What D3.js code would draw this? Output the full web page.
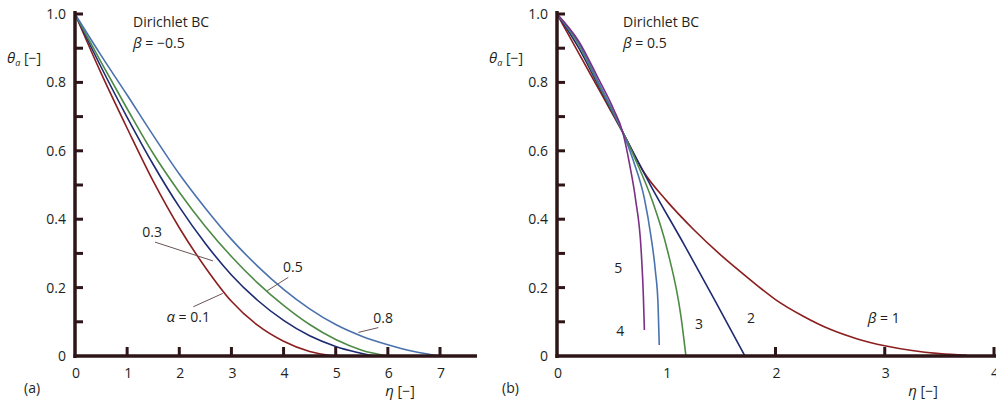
<!DOCTYPE html>
<meta charset="utf-8">
<style>
  body { margin: 0; background: #fff; }
  svg { font-family: "Open Sans", "Noto Sans", sans-serif; }
  .tick-label { font-size: 14px; fill: #231f20; }
  .note { font-size: 14px; fill: #231f20; }
  .curve { fill: none; stroke-width: 1.6; }
  .leader { stroke: #6b5454; stroke-width: 1; }
</style>
<svg width="996" height="403"></svg>
<script src="https://d3js.org/d3.v7.min.js"></script>
<script>
// ---- data, panel (a): theta_a vs eta, Dirichlet BC, beta = -0.5
var alpha01 = [[0,1],[0.5,0.827],[1,0.666],[1.5,0.511],[2,0.375],[2.5,0.259],[3,0.16],[3.5,0.09],[4,0.043],[4.5,0.013],[4.95,0]];
var alpha03 = [[0,1],[0.5,0.845],[1,0.698],[1.5,0.56],[2,0.436],[2.5,0.329],[3,0.237],[3.5,0.163],[4,0.104],[4.5,0.059],[5,0.028],[5.4,0.011],[5.75,0]];
var alpha05 = [[0,1],[0.5,0.859],[1,0.723],[1.5,0.592],[2,0.479],[2.5,0.379],[3,0.291],[3.5,0.214],[4,0.148],[4.5,0.092],[5,0.048],[5.5,0.017],[6,0]];
var alpha08 = [[0,1],[0.5,0.879],[1,0.763],[1.5,0.645],[2,0.532],[2.5,0.432],[3,0.341],[3.5,0.263],[4,0.195],[4.5,0.138],[5,0.092],[5.5,0.058],[6,0.033],[6.5,0.013],[7,0]];

// ---- data, panel (b): Dirichlet BC, beta = 0.5
var beta1 = [[0,1],[0.2,0.885],[0.4,0.77],[0.6,0.655],[0.8,0.535],[1,0.455],[1.25,0.37],[1.5,0.295],[1.75,0.228],[2,0.165],[2.25,0.117],[2.5,0.078],[2.75,0.05],[3,0.03],[3.25,0.016],[3.5,0.007],[3.75,0.002]];
var beta2 = [[0,1],[0.2,0.9],[0.38,0.79],[0.6,0.655],[0.86,0.497],[1.165,0.325],[1.45,0.16],[1.72,0]];
var beta3 = [[0,1],[0.2,0.91],[0.38,0.795],[0.6,0.656],[0.71,0.58],[0.87,0.456],[1.01,0.31],[1.135,0.115],[1.18,0]];
var beta4 = [[0,1],[0.2,0.915],[0.38,0.8],[0.6,0.655],[0.7,0.57],[0.8,0.46],[0.86,0.35],[0.9,0.25],[0.925,0.15],[0.936,0.032]];
var beta5 = [[0,1],[0.2,0.92],[0.38,0.81],[0.52,0.72],[0.6,0.656],[0.665,0.56],[0.72,0.456],[0.77,0.31],[0.79,0.18],[0.8,0.076]];

var yTicks = [0.1,0.2,0.3,0.4,0.5,0.6,0.7,0.8,0.9,1.0];
var yTickLabels = {0:"0", 0.2:"0.2", 0.4:"0.4", 0.6:"0.6", 0.8:"0.8", 1:"1.0"};
var xTicksA = [1,2,3,4,5,6,7];
var xLabelsA = [0,1,2,3,4,5,6,7];
var xTicksB = [2,3,4];
var xLabelsB = [0,1,2,3,4];

// annotation positions in data units
var notesA = [
  {t:"0.3", x:1.48, y:0.363, l:[[1.534,0.333],[2.647,0.278]]},
  {t:"α", t2:" = 0.1", x:2.17, y:0.114, l:[[2.269,0.144],[2.833,0.183]]},
  {t:"0.5", x:4.18, y:0.26, l:[[4.091,0.23],[3.688,0.191]]},
  {t:"0.8", x:5.91, y:0.111, l:[[5.817,0.083],[5.434,0.069]]}
];
var notesB = [
  {t:"5", x:0.56, y:0.256},
  {t:"4", x:0.58, y:0.074},
  {t:"3", x:1.30, y:0.093},
  {t:"2", x:1.776, y:0.11},
  {t:"β", t2:" = 1", x:2.99, y:0.11}
];

var axisColor = "#2e1518";
var colors = {red:"#8b1e1e", navy:"#1e2a72", green:"#4d8a45", blue:"#4a72ad", purple:"#7b2f86"};

var svg = d3.select("svg");

function panel(opt) {
  var x = d3.scaleLinear().domain(opt.xDomain).range(opt.xRange);
  var y = d3.scaleLinear().domain([0, 1]).range([356, 14]);
  var g = svg.append("g");
  var line = d3.line().x(function(d){ return x(d[0]); }).y(function(d){ return y(d[1]); })
      .curve(d3.curveMonotoneX);

  // curves
  opt.series.forEach(function(s) {
    g.append("path").attr("class", "curve")
      .attr("stroke", s.color)
      .attr("d", line(s.data));
  });

  // axes
  g.append("line").attr("x1", x(0)).attr("x2", x(0)).attr("y1", y(0) + 2).attr("y2", y(1) - 3)
    .attr("stroke", axisColor).attr("stroke-width", 3.5);
  g.append("line").attr("x1", x(0) - 1.5).attr("x2", opt.xEnd).attr("y1", y(0)).attr("y2", y(0))
    .attr("stroke", axisColor).attr("stroke-width", 3.5);
  g.selectAll(".yt").data(yTicks).enter().append("line")
    .attr("x1", x(0)).attr("x2", x(0) + 8)
    .attr("y1", function(d){ return y(d); }).attr("y2", function(d){ return y(d); })
    .attr("stroke", axisColor).attr("stroke-width", 3);
  g.selectAll(".xt").data(opt.xTicks).enter().append("line")
    .attr("x1", function(d){ return x(d); }).attr("x2", function(d){ return x(d); })
    .attr("y1", y(0)).attr("y2", y(0) - 9)
    .attr("stroke", axisColor).attr("stroke-width", 3);

  // tick labels
  Object.keys(yTickLabels).forEach(function(k) {
    g.append("text").attr("class", "tick-label")
      .attr("x", x(0) - 9).attr("y", y(+k) + 5)
      .attr("text-anchor", "end").text(yTickLabels[k]);
  });
  g.selectAll(".xl").data(opt.xLabels).enter().append("text").attr("class", "tick-label")
    .attr("x", function(d){ return x(d) + 1; }).attr("y", 378)
    .attr("text-anchor", "middle").text(function(d){ return d; });

  // axis titles
  var yt = g.append("text").attr("class", "note").attr("x", x(0) - 68).attr("y", 63);
  yt.append("tspan").attr("font-style", "italic").attr("font-size", "15px").text("θ");
  yt.append("tspan").attr("font-style", "italic").attr("font-size", "9px").attr("dy", 3).text("a");
  yt.append("tspan").attr("dy", -3).text(" [−]");
  var xt = g.append("text").attr("class", "note").attr("x", opt.etaX).attr("y", 396).attr("text-anchor", "middle");
  xt.append("tspan").attr("font-style", "italic").attr("font-size", "15px").text("η");
  xt.append("tspan").text(" [−]");
  g.append("text").attr("class", "note").attr("x", opt.tagX).attr("y", 393).text(opt.tag);

  g.append("text").attr("class", "note").attr("x", opt.headX).attr("y", 27).text("Dirichlet BC");
  var bt = g.append("text").attr("class", "note").attr("x", opt.headX).attr("y", 48);
  bt.append("tspan").attr("font-style", "italic").attr("font-size", "15px").text("β");
  bt.append("tspan").text(" = " + opt.beta);

  // curve labels and leaders
  opt.notes.forEach(function(n) {
    if (n.l) {
      g.append("line").attr("class", "leader")
        .attr("x1", x(n.l[0][0])).attr("y1", y(n.l[0][1]))
        .attr("x2", x(n.l[1][0])).attr("y2", y(n.l[1][1]));
    }
    var t = g.append("text").attr("class", "note")
      .attr("x", x(n.x)).attr("y", y(n.y) + 5).attr("text-anchor", "middle");
    if (n.t2) {
      t.append("tspan").attr("font-style", "italic").attr("font-size", "15px").text(n.t);
      t.append("tspan").text(n.t2);
    } else {
      t.text(n.t);
    }
  });
}

panel({
  xDomain: [0, 7], xRange: [75, 440], xEnd: 477,
  xTicks: xTicksA, xLabels: xLabelsA,
  etaX: 400, tagX: 24, tag: "(a)", headX: 133, beta: "−0.5",
  series: [
    {data: alpha01, color: colors.red},
    {data: alpha03, color: colors.navy},
    {data: alpha05, color: colors.green},
    {data: alpha08, color: colors.blue}
  ],
  notes: notesA
});

panel({
  xDomain: [0, 4], xRange: [557, 994], xEnd: 998,
  xTicks: xTicksB, xLabels: xLabelsB,
  etaX: 923, tagX: 502, tag: "(b)", headX: 623, beta: "0.5",
  series: [
    {data: beta1, color: colors.red},
    {data: beta2, color: colors.navy},
    {data: beta3, color: colors.green},
    {data: beta4, color: colors.blue},
    {data: beta5, color: colors.purple}
  ],
  notes: notesB
});
</script>
